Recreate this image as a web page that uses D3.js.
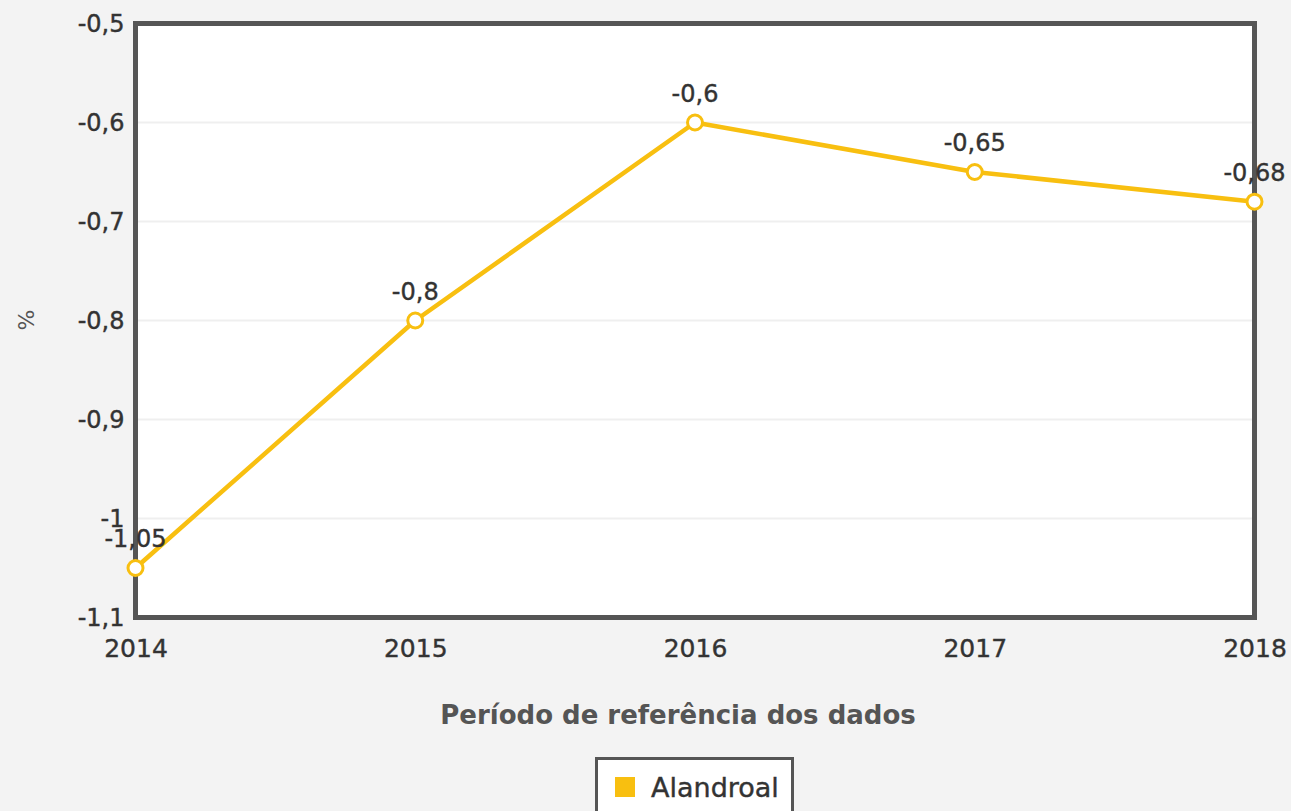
<!DOCTYPE html>
<html>
<head>
<meta charset="utf-8">
<script src="https://cdn.jsdelivr.net/npm/d3@7"></script>
<style>
  html, body { margin: 0; padding: 0; background: #f3f3f3; }
  svg { display: block; font-family: "DejaVu Sans", sans-serif; }
</style>
</head>
<body>
<svg id="chart" width="1291" height="811"></svg>
<script>
const years = ['2014', '2015', '2016', '2017', '2018'];
const values = [-1.05, -0.8, -0.6, -0.65, -0.68];
const yTicks = [-1.1, -1, -0.9, -0.8, -0.7, -0.6, -0.5];
const seriesName = 'Alandroal';

const width = 1291;
const height = 811;
const plot = { left: 135.5, top: 23.5, right: 1254.5, bottom: 617.5 };
const lineColor = '#f8bf10';

const fmt = (v) => String(v).replace('.', ',');

const svg = d3.select('#chart');

const x = d3.scalePoint().domain(years).range([plot.left, plot.right]);
const y = d3.scaleLinear().domain([-1.1, -0.5]).range([plot.bottom, plot.top]);

// plot background
svg.append('rect')
  .attr('x', plot.left).attr('y', plot.top)
  .attr('width', plot.right - plot.left).attr('height', plot.bottom - plot.top)
  .attr('fill', '#ffffff');

// gridlines
svg.append('g')
  .selectAll('line')
  .data(yTicks)
  .enter()
  .append('line')
  .attr('x1', plot.left).attr('x2', plot.right)
  .attr('y1', (d) => y(d)).attr('y2', (d) => y(d))
  .attr('stroke', '#efefef')
  .attr('stroke-width', 2);

// frame
svg.append('rect')
  .attr('x', plot.left).attr('y', plot.top)
  .attr('width', plot.right - plot.left).attr('height', plot.bottom - plot.top)
  .attr('fill', 'none')
  .attr('stroke', '#555555')
  .attr('stroke-width', 5);

// y axis labels
const yAxis = d3.axisLeft(y).tickValues(yTicks).tickFormat(fmt).tickSize(0).tickPadding(11);
const gy = svg.append('g').attr('transform', `translate(${plot.left},0)`).call(yAxis);
gy.select('.domain').remove();
gy.selectAll('text')
  .attr('font-size', 24)
  .attr('font-family', '"DejaVu Sans", sans-serif')
  .attr('fill', '#333333')
  .attr('stroke', '#333333')
  .attr('stroke-width', 0.4);

// x axis labels
const xAxis = d3.axisBottom(x).tickSize(0).tickPadding(22);
const gx = svg.append('g').attr('transform', `translate(0,${plot.bottom})`).call(xAxis);
gx.select('.domain').remove();
gx.selectAll('text')
  .attr('font-size', 25)
  .attr('font-family', '"DejaVu Sans", sans-serif')
  .attr('fill', '#333333')
  .attr('stroke', '#333333')
  .attr('stroke-width', 0.4);

// axis titles
svg.append('text')
  .attr('x', 678)
  .attr('y', 724)
  .attr('text-anchor', 'middle')
  .attr('font-size', 26)
  .attr('font-weight', 'bold')
  .attr('fill', '#555555')
  .text('Período de referência dos dados');

svg.append('text')
  .attr('transform', 'translate(34,320) rotate(-90)')
  .attr('text-anchor', 'middle')
  .attr('font-size', 22)
  .attr('fill', '#555555')
  .text('%');

// series line
const data = years.map((yr, i) => ({ year: yr, value: values[i] }));

svg.append('path')
  .datum(data)
  .attr('fill', 'none')
  .attr('stroke', lineColor)
  .attr('stroke-width', 4.5)
  .attr('stroke-linejoin', 'round')
  .attr('d', d3.line().x((d) => x(d.year)).y((d) => y(d.value)));

svg.append('g')
  .selectAll('circle')
  .data(data)
  .enter()
  .append('circle')
  .attr('cx', (d) => x(d.year))
  .attr('cy', (d) => y(d.value))
  .attr('r', 7.5)
  .attr('fill', '#ffffff')
  .attr('stroke', lineColor)
  .attr('stroke-width', 3);

// data labels
svg.append('g')
  .selectAll('text')
  .data(data)
  .enter()
  .append('text')
  .attr('x', (d) => x(d.year))
  .attr('y', (d) => y(d.value) - 21)
  .attr('text-anchor', 'middle')
  .attr('font-size', 24)
  .attr('fill', '#333333')
  .attr('stroke', '#333333')
  .attr('stroke-width', 0.4)
  .text((d) => fmt(d.value));

// legend
const legend = svg.append('g');
legend.append('rect')
  .attr('x', 596.5).attr('y', 758.5)
  .attr('width', 196).attr('height', 80)
  .attr('fill', '#ffffff')
  .attr('stroke', '#555555')
  .attr('stroke-width', 3);
legend.append('rect')
  .attr('x', 615).attr('y', 777)
  .attr('width', 20).attr('height', 20)
  .attr('fill', lineColor);
legend.append('text')
  .attr('x', 651).attr('y', 797)
  .attr('font-size', 27)
  .attr('fill', '#333333')
  .attr('stroke', '#333333')
  .attr('stroke-width', 0.4)
  .text(seriesName);
</script>
</body>
</html>
